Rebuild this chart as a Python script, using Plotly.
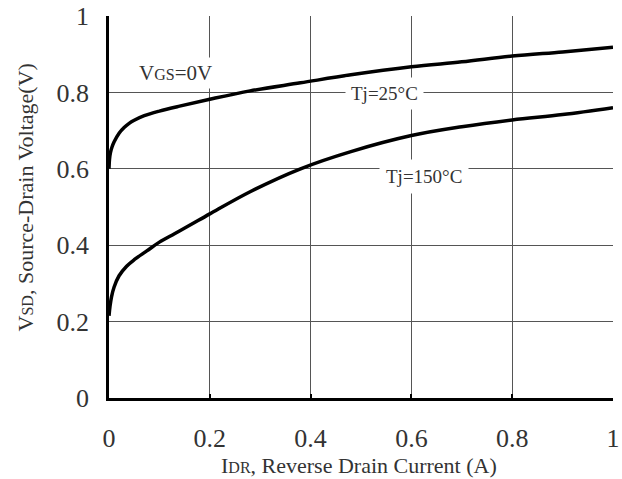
import plotly.graph_objects as go

# Tj = 25 C curve
x25 = [0.0, 0.001, 0.003, 0.006, 0.01, 0.02, 0.03, 0.04, 0.05, 0.07, 0.1, 0.14, 0.2, 0.28, 0.38, 0.48, 0.6, 0.7, 0.8, 0.9, 1.0]
y25 = [0.60, 0.625, 0.643, 0.657, 0.670, 0.693, 0.708, 0.719, 0.727, 0.739, 0.751, 0.764, 0.782, 0.804, 0.825, 0.846, 0.867, 0.880, 0.895, 0.906, 0.918]

# Tj = 150 C curve
x150 = [0.0, 0.002, 0.005, 0.01, 0.02, 0.035, 0.05, 0.075, 0.1, 0.13, 0.16, 0.2, 0.28, 0.38, 0.48, 0.6, 0.7, 0.8, 0.9, 1.0]
y150 = [0.215, 0.24, 0.265, 0.29, 0.32, 0.345, 0.362, 0.385, 0.408, 0.43, 0.452, 0.482, 0.54, 0.600, 0.645, 0.687, 0.710, 0.728, 0.742, 0.760]

xticks = [0, 0.2, 0.4, 0.6, 0.8, 1]
xticklabels = ["0", "0.2", "0.4", "0.6", "0.8", "1"]
yticks = [0, 0.2, 0.4, 0.6, 0.8, 1]
yticklabels = ["0", "0.2", "0.4", "0.6", "0.8", "1"]

FONT = "Liberation Serif"
TXT = "#333333"

fig = go.Figure()
fig.add_trace(go.Scatter(x=x25, y=y25, mode="lines", line=dict(color="black", width=3.5, shape="spline", smoothing=1.0), showlegend=False))
fig.add_trace(go.Scatter(x=x150, y=y150, mode="lines", line=dict(color="black", width=3.5, shape="spline", smoothing=1.0), showlegend=False))

common = dict(
    range=[0, 1], showgrid=True, gridcolor="#555555", gridwidth=1.2,
    showline=True, linecolor="black", linewidth=2.5,
    zeroline=False, automargin=False,
    tickfont=dict(family=FONT, size=26, color=TXT),
)
fig.update_xaxes(tickvals=xticks, ticktext=xticklabels, ticks="inside", ticklen=4, tickwidth=2,
                 tickcolor="black", ticklabelstandoff=15, **common)
fig.update_yaxes(tickvals=yticks, ticktext=yticklabels, ticks="outside", ticklen=12,
                 tickcolor="rgba(0,0,0,0)", **common)

fig.add_annotation(xref="paper", yref="paper", x=0.496, y=-0.178, xanchor="center", yanchor="middle",
                   text="I<span style='font-size:16px'>DR</span>, Reverse Drain Current (A)",
                   showarrow=False, font=dict(family=FONT, size=22, color=TXT))
fig.add_annotation(xref="paper", yref="paper", x=-0.1667, y=0.525, xanchor="center", yanchor="middle",
                   textangle=-90,
                   text="V<span style='font-size:16px'>SD</span>, Source-Drain Voltage(V)",
                   showarrow=False, font=dict(family=FONT, size=22, color=TXT))

fig.add_annotation(x=0.131, y=0.851, text="V<span style='font-size:16px'>GS</span>=0V", showarrow=False,
                   font=dict(family=FONT, size=21, color=TXT), bgcolor="white", borderpad=3)
fig.add_annotation(x=0.546, y=0.798, text="Tj=25°C", showarrow=False,
                   font=dict(family=FONT, size=19, color=TXT), bgcolor="white", borderpad=5)
fig.add_annotation(x=0.625, y=0.579, text="Tj=150°C", showarrow=False,
                   font=dict(family=FONT, size=19, color=TXT), bgcolor="white", borderpad=6)

fig.update_layout(
    width=622, height=479,
    margin=dict(l=109, r=9, t=16, b=81),
    plot_bgcolor="white", paper_bgcolor="white",
)
fig.write_html("out.html")
